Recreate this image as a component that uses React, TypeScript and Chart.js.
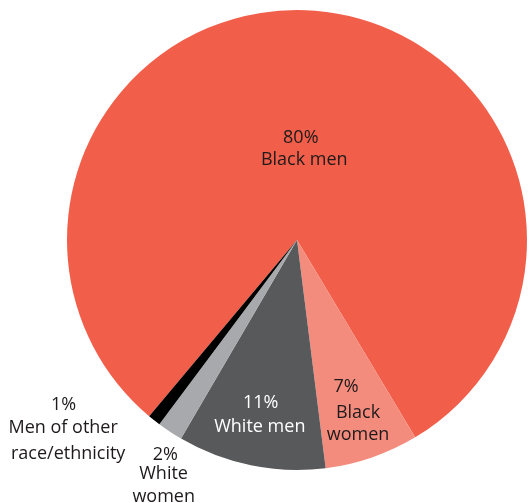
import React, { useEffect, useRef } from "react";
import { Chart, registerables } from "chart.js";

Chart.register(...registerables);

const categories = ["Black men", "Black women", "White men", "White women", "Men of other race/ethnicity"];
const values = [80.3, 6.6, 10.4, 1.8, 0.9];
const percentLabels = ["80%", "7%", "11%", "2%", "1%"];
const nameLines = [["Black men"], ["Black", "women"], ["White men"], ["White", "women"], ["Men of other", "race/ethnicity"]];
const colors = ["#F15F4B", "#F48C7E", "#58595B", "#A7A9AC", "#000000"];
const labelColors = ["#1E1A1B", "#1E1A1B", "#FFFFFF", "#1E1A1B", "#1E1A1B"];

// label layout: k = fraction of radius along mid-angle; lines: [dx, dyBaseline]
const labelLayout = [
  { k: 0.4, lines: [[-3.5, -5], [0, 16.7]] },
  { k: 0.78, lines: [[-9.5, -17.8], [2.5, 8.8], [2.5, 30.5]] },
  { k: 0.77, lines: [[-0.9, -5.2], [-1.7, 18.2]] },
  { k: 1.17, lines: [[17, -4.3], [15.2, 15], [15.3, 37.4]] },
  { k: 1.3, lines: [[-47.8, -64.4], [-48.2, -41.1], [-43.2, -15.7]] },
];

const labelPlugin = {
  id: "sliceLabels",
  afterDatasetsDraw(chart: any) {
    const ctx = chart.ctx;
    const meta = chart.getDatasetMeta(0);
    ctx.save();
    ctx.font = "18px 'Open Sans'";
    ctx.textAlign = "center";
    ctx.textBaseline = "alphabetic";
    meta.data.forEach((arc: any, i: number) => {
      const p = arc.getProps(["x", "y", "startAngle", "endAngle", "outerRadius"], true);
      const mid = (p.startAngle + p.endAngle) / 2;
      const r = p.outerRadius * labelLayout[i].k;
      const ax = p.x + Math.cos(mid) * r;
      const ay = p.y + Math.sin(mid) * r;
      const texts = [percentLabels[i], ...nameLines[i]];
      ctx.fillStyle = labelColors[i];
      texts.forEach((t, j) => {
        const off = labelLayout[i].lines[j];
        ctx.fillText(t, ax + off[0], ay + off[1]);
      });
    });
    ctx.restore();
  },
};

export default function App() {
  const ref = useRef<HTMLCanvasElement | null>(null);
  useEffect(() => {
    if (!ref.current) return;
    const chart = new Chart(ref.current, {
      type: "pie",
      data: {
        labels: categories,
        datasets: [
          {
            data: values,
            backgroundColor: colors,
            borderWidth: 0,
          },
        ],
      },
      options: {
        responsive: false,
        maintainAspectRatio: false,
        animation: false,
        rotation: 220,
        layout: { padding: { left: 67, right: 2, top: 10, bottom: 33 } },
        plugins: {
          legend: { display: false },
          tooltip: { enabled: false },
        },
      },
      plugins: [labelPlugin],
    });
    return () => chart.destroy();
  }, []);
  return (
    <div style={{ position: "absolute", left: 0, top: 0, width: 529, height: 503, background: "#fff" }}>
      <canvas ref={ref} width={529} height={503} style={{ display: "block" }} />
    </div>
  );
}
